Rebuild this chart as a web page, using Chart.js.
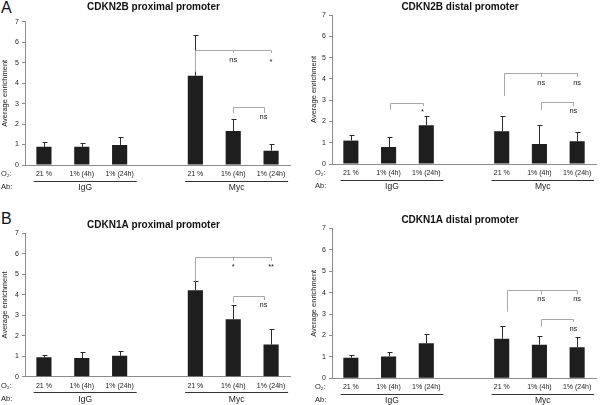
<!DOCTYPE html>
<html>
<head>
<meta charset="utf-8">
<script src="https://cdn.jsdelivr.net/npm/chart.js@4.4.1/dist/chart.umd.min.js"></script>
<style>
  html, body { margin: 0; padding: 0; background: #fff; overflow: hidden; }
  #page { position: relative; width: 600px; height: 405px; font-family: 'Liberation Sans', Arial, sans-serif; }
  canvas { position: absolute; }
  .letter { position: absolute; font-size: 16px; color: #111; line-height: 1; }
</style>
</head>
<body>
<div id="page">
  <div class="letter" style="left:1px; top:0px">A</div>
  <div class="letter" style="left:1px; top:211px">B</div>
  <canvas id="n2bProx" width="300" height="193" style="left:0; top:0"></canvas>
  <canvas id="n2bDist" width="300" height="192" style="left:300px; top:0"></canvas>
  <canvas id="n1aProx" width="300" height="205" style="left:0; top:200px"></canvas>
  <canvas id="n1aDist" width="300" height="205" style="left:300px; top:200px"></canvas>
</div>
<script>
;(function () {
  // O2 condition per bar, empty slot separates the two antibody groups
  var categories = ['21 %', '1% (4h)', '1% (24h)', '', '21 %', '1% (4h)', '1% (24h)']
  var groupNames = ['IgG', 'Myc']
  var groupSlots = [[0, 2], [4, 6]]

  var n2bProxMean = [0.89, 0.89, 0.98, null, 4.36, 1.66, 0.70]
  var n2bProxErr  = [0.25, 0.17, 0.37, null, 1.98, 0.57, 0.32]
  var n2bDistMean = [1.10, 0.80, 1.82, null, 1.54, 0.94, 1.07]
  var n2bDistErr  = [0.25, 0.48, 0.44, null, 0.72, 0.88, 0.44]
  var n1aProxMean = [0.95, 0.91, 1.02, null, 4.22, 2.81, 1.57]
  var n1aProxErr  = [0.11, 0.28, 0.23, null, 0.44, 0.67, 0.75]
  var n1aDistMean = [0.96, 1.02, 1.64, null, 1.85, 1.57, 1.45]
  var n1aDistErr  = [0.11, 0.22, 0.42, null, 0.58, 0.39, 0.47]

  // significance brackets: slot range, bar height, legs [slot, bottom], notes [slot, value, text]
  var n2bProxBrackets = [
    { from: 4, to: 6, y: 5.64, legs: [[4, 4.55], [5, 5.47], [6, 5.47]], notes: [[5, 5.12, 'ns'], [6, 5.05, '*']] },
    { from: 5, to: 5.8, y: 2.81, legs: [[5, 2.54], [5.8, 2.54]], notes: [[5.8, 2.36, 'ns']] }
  ]
  var n2bDistBrackets = [
    { from: 1.04, to: 1.9, y: 2.88, legs: [[1.04, 2.54], [1.9, 2.72]], notes: [[1.9, 2.45, '*']] },
    { from: 4.05, to: 6, y: 4.26, legs: [[4.05, 3.19], [5.05, 4.09], [6, 4.09]], notes: [[5.05, 3.79, 'ns'], [6, 3.79, 'ns']] },
    { from: 5.05, to: 5.9, y: 2.90, legs: [[5.05, 2.54], [5.9, 2.72]], notes: [[5.9, 2.49, 'ns']] }
  ]
  var n1aProxBrackets = [
    { from: 4, to: 6, y: 5.86, legs: [[4, 4.64], [5, 5.66], [6, 5.66]], notes: [[5, 5.35, '*'], [6, 5.35, '**']] },
    { from: 5, to: 5.8, y: 3.94, legs: [[5, 3.61], [5.8, 3.74]], notes: [[5.8, 3.5, 'ns']] }
  ]
  var n1aDistBrackets = [
    { from: 4.13, to: 6, y: 4.12, legs: [[4.13, 3.11], [5.05, 3.92], [6, 3.92]], notes: [[5.05, 3.69, 'ns'], [6, 3.69, 'ns']] },
    { from: 5.05, to: 5.9, y: 2.75, legs: [[5.05, 2.41], [5.9, 2.64]], notes: [[5.9, 2.29, 'ns']] }
  ]

  var FONT = "'Liberation Sans', Arial, sans-serif"

  var panels = [
    { id: 'n2bProx', title: 'CDKN2B proximal promoter', mean: n2bProxMean, err: n2bProxErr, brackets: n2bProxBrackets,
      pad: { left: 0, top: 21.7, right: 10, bottom: 0 }, yWidth: 25, xHeight: 28, titleY: 7, labelX: 1 },
    { id: 'n2bDist', title: 'CDKN2B distal promoter', mean: n2bDistMean, err: n2bDistErr, brackets: n2bDistBrackets,
      pad: { left: 9, top: 15, right: 4, bottom: 0 }, yWidth: 23, xHeight: 28, titleY: 7, labelX: 15 },
    { id: 'n1aProx', title: 'CDKN1A proximal promoter', mean: n1aProxMean, err: n1aProxErr, brackets: n1aProxBrackets,
      pad: { left: 0, top: 33.3, right: 10, bottom: 0 }, yWidth: 25, xHeight: 28.3, titleY: 25, labelX: 1 },
    { id: 'n1aDist', title: 'CDKN1A distal promoter', mean: n1aDistMean, err: n1aDistErr, brackets: n1aDistBrackets,
      pad: { left: 9, top: 28.3, right: 4, bottom: 0 }, yWidth: 23, xHeight: 26.7, titleY: 20, labelX: 15 }
  ]

  function crisp(v) { return Math.round(v) + 0.5 }

  var errorBars = {
    id: 'errorBars',
    afterDatasetsDraw: function (chart) {
      var ds = chart.data.datasets[0]
      var y = chart.scales.y
      var ctx = chart.ctx
      ctx.save()
      ctx.strokeStyle = '#2a2a2a'
      ctx.lineWidth = 1
      chart.getDatasetMeta(0).data.forEach(function (bar, i) {
        var v = ds.data[i]
        if (v == null) return
        var x = crisp(bar.x)
        var top = crisp(y.getPixelForValue(v + ds.err[i]))
        ctx.beginPath()
        ctx.moveTo(x, bar.y)
        ctx.lineTo(x, top)
        ctx.moveTo(x - 2, top)
        ctx.lineTo(x + 3, top)
        ctx.stroke()
      })
      ctx.restore()
    }
  }

  function decorations(panel) {
    return {
      id: 'decor',
      afterDraw: function (chart) {
        var ctx = chart.ctx
        var x = chart.scales.x
        var y = chart.scales.y
        var area = chart.chartArea
        var slotW = x.getPixelForValue(1) - x.getPixelForValue(0)
        ctx.save()

        // panel title
        ctx.fillStyle = '#111'
        ctx.font = 'bold 10px ' + FONT
        ctx.textAlign = 'center'
        ctx.textBaseline = 'middle'
        ctx.fillText(panel.title, (area.left + area.right) / 2 - 4, panel.titleY)

        // row captions
        ctx.font = '7.5px ' + FONT
        ctx.textAlign = 'left'
        ctx.fillStyle = '#222'
        ctx.fillText('O\u2082:', panel.labelX, area.bottom + 9)
        ctx.fillText('Ab:', panel.labelX, area.bottom + 22)

        // antibody groups
        ctx.strokeStyle = '#333'
        ctx.lineWidth = 1
        groupSlots.forEach(function (g, k) {
          var l = x.getPixelForValue(g[0]) - 0.27 * slotW
          var r = x.getPixelForValue(g[1]) + 0.45 * slotW
          var ly = crisp(area.bottom + 15.5)
          ctx.beginPath()
          ctx.moveTo(l, ly)
          ctx.lineTo(r, ly)
          ctx.stroke()
          ctx.font = '8.5px ' + FONT
          ctx.textAlign = 'center'
          ctx.fillText(groupNames[k], (l + r) / 2, area.bottom + 22.5)
        })

        // significance brackets
        ctx.strokeStyle = '#a8a8a8'
        panel.brackets.forEach(function (b) {
          var hy = crisp(y.getPixelForValue(b.y))
          ctx.beginPath()
          ctx.moveTo(crisp(x.getPixelForValue(b.from)), hy)
          ctx.lineTo(crisp(x.getPixelForValue(b.to)), hy)
          b.legs.forEach(function (leg) {
            var lx = crisp(x.getPixelForValue(leg[0]))
            ctx.moveTo(lx, hy)
            ctx.lineTo(lx, y.getPixelForValue(leg[1]))
          })
          ctx.stroke()
          ctx.font = '7.5px ' + FONT
          ctx.textAlign = 'center'
          ctx.fillStyle = '#222'
          b.notes.forEach(function (n) {
            ctx.fillText(n[2], x.getPixelForValue(n[0]), y.getPixelForValue(n[1]))
          })
        })
        ctx.restore()
      }
    }
  }

  panels.forEach(function (panel) {
    new Chart(document.getElementById(panel.id), {
      type: 'bar',
      data: {
        labels: categories,
        datasets: [{
          data: panel.mean,
          err: panel.err,
          backgroundColor: '#1e1e1e',
          borderWidth: 0,
          barPercentage: 0.4,
          categoryPercentage: 1
        }]
      },
      plugins: [errorBars, decorations(panel)],
      options: {
        responsive: false,
        animation: false,
        layout: { padding: panel.pad },
        plugins: {
          legend: { display: false },
          tooltip: { enabled: false }
        },
        scales: {
          x: {
            afterFit: function (s) { s.height = panel.xHeight },
            grid: { display: false, drawTicks: false },
            border: { color: '#8c8c8c' },
            ticks: {
              color: '#222',
              padding: 5,
              maxRotation: 0,
              autoSkip: false,
              font: { family: FONT, size: 7 }
            }
          },
          y: {
            min: 0,
            max: 7,
            afterFit: function (s) { s.width = panel.yWidth },
            grid: { drawOnChartArea: false, tickLength: 3, color: '#8c8c8c' },
            border: { color: '#8c8c8c' },
            ticks: {
              stepSize: 1,
              color: '#222',
              padding: 3,
              font: { family: FONT, size: 7 }
            },
            title: {
              display: true,
              text: 'Average enrichment',
              color: '#222',
              padding: 0,
              font: { family: FONT, size: 7.5 }
            }
          }
        }
      }
    })
  })
})()
</script>
</body>
</html>
